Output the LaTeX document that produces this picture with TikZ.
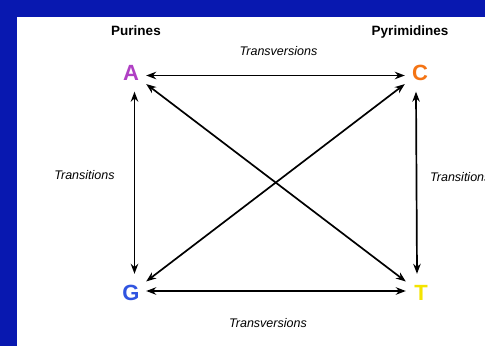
\documentclass[tikz,border=0pt]{standalone}
\usepackage{fontspec}
\setmainfont{Liberation Sans}
\usepackage{xcolor}
\usetikzlibrary{arrows.meta,calc,positioning}
\definecolor{slideblue}{RGB}{8,24,176}
\definecolor{baseA}{RGB}{176,64,196}
\definecolor{baseC}{RGB}{244,116,20}
\definecolor{baseG}{RGB}{48,84,224}
\definecolor{baseT}{RGB}{244,228,0}
\tikzset{
  base/.style={font=\fontsize{22}{22}\selectfont\bfseries, minimum width=30pt, minimum height=38pt, inner sep=0pt},
  mutation/.style={font=\fontsize{12.5}{13}\selectfont\itshape},
  group/.style={font=\fontsize{13.5}{14}\selectfont\bfseries},
  swap/.style={{Stealth[length=10pt,width=7.5pt]}-{Stealth[length=10pt,width=7.5pt]}, line width=1.7pt}
}
\begin{document}
\begin{tikzpicture}[x=1pt,y=-1pt]
        \useasboundingbox (0,0) rectangle (485,346);
        % Slide frame
        \fill[slideblue] (0,0) rectangle (485,346);
        \fill[white] (17,17) rectangle (490,350);
        % The four bases
        \node[base, text=baseA] (A) at (131,72.5) {A};
        \node[base, text=baseC] (C) at (420,72.5) {C};
        \node[base, text=baseG] (G) at (131,293) {G};
        \node[base, text=baseT] (T) at (421,293) {T};
        % Group headings
        \node[group] (pur) at (136,31) {Purines};
        \node[group] (pyr) at (410,32) {Pyrimidines};
        % Labels of the mutations
        \node[mutation] (tvtop) at (278.5,51) {Transversions};
        \node[mutation] (tvbot) at (268,323) {Transversions};
        \node[mutation] (tsleft) at (84.5,175) {Transitions};
        \node[mutation, anchor=west, inner sep=0pt] (tsright) at (430,177) {Transitions};
        % Transversions
        \draw[swap] ([yshift=-3pt]A.east) -- ([yshift=-3pt]C.west);
        \draw[swap] ([yshift=2pt]G.east) -- ([yshift=2pt]T.west);
        \draw[swap] (A) -- (T);
        \draw[swap] (C) -- (G);
        % Transitions
        \draw[swap] ([xshift=3.5pt]A.south) -- ([xshift=3.5pt]G.north);
        \draw[swap] ([xshift=-4pt]C.south) -- ([xshift=-4pt]T.north);
\end{tikzpicture}
\end{document}
